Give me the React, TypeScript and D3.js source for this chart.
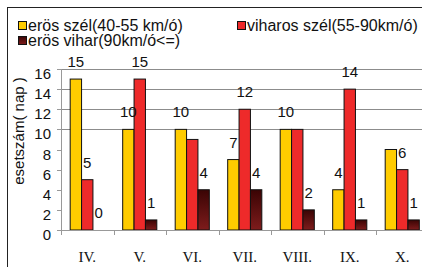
import React, { useEffect, useRef } from "react";
import * as d3 from "d3";

// months on the x axis
const months = ["IV.", "V.", "VI.", "VII.", "VIII.", "IX.", "X."];
// number of days per wind category
const strongWind = [15, 10, 10, 7, 10, 4, 8];
const galeWind = [5, 15, 9, 12, 10, 14, 6];
const storm = [0, 1, 4, 4, 2, 1, 1];
const seriesNames = ["erös szél(40-55 km/ó)", "viharos szél(55-90km/ó)", "erös vihar(90km/ó<=)"];
// value labels that the original chart does not show (month, series index)
const hiddenLabels = ["VI.-1", "VIII.-1", "X.-0"];
const yTicks = [0, 2, 4, 6, 8, 10, 12, 14, 16];
const gridTicks = [10, 12, 14, 16];

const W = 422;
const H = 267;

export default function App() {
  const ref = useRef<SVGSVGElement>(null);

  useEffect(() => {
    const svg = d3.select(ref.current);
    svg.selectAll("*").remove();

    const font = "'Liberation Sans', Arial, sans-serif";
    const left = 61,
      right = 428.5,
      top = 69,
      bottom = 230;

    const defs = svg.append("defs");
    const grad = defs
      .append("linearGradient")
      .attr("id", "stormGrad")
      .attr("x1", 0)
      .attr("y1", 0)
      .attr("x2", 0)
      .attr("y2", 1);
    grad.append("stop").attr("offset", "0%").attr("stop-color", "#3a0404");
    grad.append("stop").attr("offset", "100%").attr("stop-color", "#7e1c1c");

    const colors = ["#ffcc00", "#ee2a2a", "url(#stormGrad)"];

    // outer frame
    svg
      .append("rect")
      .attr("x", 7.5)
      .attr("y", 7.5)
      .attr("width", W + 20)
      .attr("height", H + 20)
      .attr("fill", "white")
      .attr("stroke", "#222");

    const x0 = d3
      .scaleBand()
      .domain(months)
      .range([left, right])
      .paddingInner(0.35)
      .paddingOuter(0.175);
    const x1 = d3.scaleBand().domain(["0", "1", "2"]).range([0, x0.bandwidth()]);
    const y = d3.scaleLinear().domain([0, 16]).range([bottom, top]);

    // gridlines
    svg
      .append("g")
      .selectAll("line")
      .data(gridTicks)
      .join("line")
      .attr("x1", left)
      .attr("x2", W)
      .attr("y1", (d) => Math.round(y(d)) + 0.5)
      .attr("y2", (d) => Math.round(y(d)) + 0.5)
      .attr("stroke", "#8c8c8c");

    // y axis
    const ya = svg.append("g");
    ya.append("line")
      .attr("x1", left + 0.5)
      .attr("x2", left + 0.5)
      .attr("y1", top)
      .attr("y2", bottom)
      .attr("stroke", "#999");
    ya.selectAll("line.tick")
      .data(yTicks)
      .join("line")
      .attr("class", "tick")
      .attr("x1", left - 4)
      .attr("x2", left)
      .attr("y1", (d) => Math.round(y(d)) + 0.5)
      .attr("y2", (d) => Math.round(y(d)) + 0.5)
      .attr("stroke", "#999");
    ya.selectAll("text")
      .data(yTicks)
      .join("text")
      .attr("x", 51)
      .attr("y", (d) => y(d) + 10)
      .attr("text-anchor", "end")
      .attr("font-family", font)
      .attr("font-size", 15)
      .attr("fill", "#111")
      .text((d) => d);

    // y axis title
    svg
      .append("text")
      .attr("transform", "translate(24,131) rotate(-90)")
      .attr("text-anchor", "middle")
      .attr("font-family", font)
      .attr("font-size", 15)
      .attr("fill", "#111")
      .text("esetszám( nap )");

    // bars
    const data = months.map((m, i) => ({
      month: m,
      values: [strongWind[i], galeWind[i], storm[i]],
    }));

    const groups = svg
      .append("g")
      .selectAll("g")
      .data(data)
      .join("g")
      .attr("transform", (d) => `translate(${x0(d.month)},0)`);

    groups
      .selectAll("rect")
      .data((d) => d.values.map((v, k) => ({ v, k })))
      .join("rect")
      .filter((d) => d.v > 0)
      .attr("x", (d) => x1(String(d.k))!)
      .attr("y", (d) => y(d.v))
      .attr("width", x1.bandwidth())
      .attr("height", (d) => bottom - y(d.v))
      .attr("fill", (d) => colors[d.k])
      .attr("stroke", "#111")
      .attr("stroke-width", 1);

    groups
      .selectAll("text")
      .data((d) =>
        d.values
          .map((v, k) => ({ v, k, key: `${d.month}-${k}` }))
          .filter((e) => !hiddenLabels.includes(e.key))
      )
      .join("text")
      .attr("x", (d) => x1(String(d.k))! + x1.bandwidth() / 2)
      .attr("y", (d) => y(d.v) - 12)
      .attr("text-anchor", "middle")
      .attr("font-family", font)
      .attr("font-size", 15)
      .attr("fill", "#111")
      .text((d) => d.v);

    // x axis
    svg
      .append("line")
      .attr("x1", left)
      .attr("x2", W)
      .attr("y1", bottom + 0.5)
      .attr("y2", bottom + 0.5)
      .attr("stroke", "#999");
    const step = x0.step();
    svg
      .append("g")
      .selectAll("line")
      .data(d3.range(months.length + 1))
      .join("line")
      .attr("x1", (i) => Math.round(left + i * step) + 0.5)
      .attr("x2", (i) => Math.round(left + i * step) + 0.5)
      .attr("y1", bottom)
      .attr("y2", bottom + 5)
      .attr("stroke", "#999");
    svg
      .append("g")
      .selectAll("text")
      .data(months)
      .join("text")
      .attr("x", (d) => x0(d)! + x0.bandwidth() / 2)
      .attr("y", 262)
      .attr("text-anchor", "middle")
      .attr("font-family", "'Liberation Serif', 'Times New Roman', serif")
      .attr("font-size", 15)
      .attr("fill", "#111")
      .text((d) => d);

    // legend
    const legendPos = [
      [18, 21],
      [237, 21],
      [18, 36],
    ];
    const lg = svg
      .append("g")
      .selectAll("g")
      .data(seriesNames)
      .join("g")
      .attr("transform", (_, i) => `translate(${legendPos[i][0]},${legendPos[i][1]})`);
    lg.append("rect")
      .attr("x", 0.5)
      .attr("y", 0.5)
      .attr("width", 8)
      .attr("height", 8)
      .attr("fill", (_, i) => colors[i])
      .attr("stroke", "#111");
    lg.append("text")
      .attr("x", 10)
      .attr("y", 10)
      .attr("font-family", font)
      .attr("font-size", 16)
      .attr("fill", "#111")
      .text((d) => d);
  }, []);

  return (
    <svg
      ref={ref}
      width={W}
      height={H}
      style={{ position: "absolute", left: 0, top: 0, background: "white" }}
    />
  );
}
